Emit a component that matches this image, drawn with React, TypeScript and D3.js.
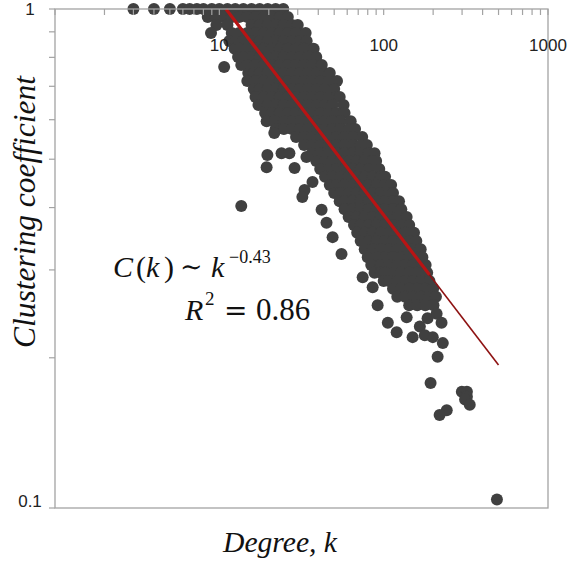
import React from "react";
import * as d3 from "d3";

// Dense rows of the scatter cloud: clustering coefficient per row, degrees in that row
const rowC: number[] = [
  1.0, 0.964, 0.929, 0.895, 0.863, 0.832, 0.801, 0.772, 0.744, 0.717,
  0.691, 0.666, 0.642, 0.619, 0.596, 0.575, 0.554, 0.534, 0.514, 0.496,
  0.478, 0.461, 0.444, 0.428, 0.412, 0.397, 0.383, 0.369, 0.356, 0.343,
  0.33, 0.318, 0.307, 0.296, 0.285, 0.275, 0.265, 0.255,
];
const rowK: number[][] = [
  [3, 4, 5, 6, 6.6, 7.3, 8, 9, 10, 11.2, 12.5, 14, 15.7, 17.6, 19.7, 22, 24.5],
  [8.5, 9.5, 10.6, 11.9, 13.2, 14.8, 16.6, 18.6, 20.8, 23.3, 26.1],
  [9.6, 11.2, 15.7, 17.6, 19.7, 22, 24.7, 27.7, 30],
  [8.9, 11.9, 13.2, 14.8, 16.6, 18.6, 20.8, 23.3, 26.1, 29.3, 33.5],
  [11.5, 12.5, 14, 15.7, 17.6, 19.7, 22, 24.7, 27.7, 31, 34],
  [12.4, 13.2, 14.8, 16.6, 18.6, 20.8, 23.3, 26.1, 29.3, 32.8, 37.5],
  [13, 14, 15.7, 17.6, 19.7, 22, 24.7, 27.7, 31, 34.7, 38.9],
  [13.6, 14.8, 16.6, 18.6, 20.8, 23.3, 26.1, 29.3, 32.8, 36.7, 42],
  [15, 16.2, 17.6, 19.7, 22, 24.7, 27.7, 31, 34.7, 38.9, 43.5, 47],
  [14.8, 16.6, 18.6, 20.8, 23.3, 26.1, 29.3, 32.8, 36.7, 41.1, 46, 52],
  [16.2, 17.6, 19.7, 22, 24.7, 27.7, 31, 34.7, 38.9, 43.5, 50],
  [16.6, 18.6, 20.8, 23.3, 26.1, 29.3, 32.8, 36.7, 41.1, 46, 51.6, 54],
  [17.3, 19.7, 22, 24.7, 27.7, 31, 34.7, 38.9, 43.5, 48.8, 57],
  [19, 20.8, 23.3, 26.1, 29.3, 32.8, 36.7, 41.1, 46, 51.6, 57.8],
  [19.4, 21.6, 24.7, 27.7, 31, 34.7, 38.9, 43.5, 48.8, 54.6, 63],
  [22, 24.7, 27.7, 31, 34.7, 38.9, 43.5, 48.8, 54.6, 61.2, 67],
  [29.3, 32.8, 36.7, 41.1, 46, 51.6, 57.8, 64.7, 74],
  [32.8, 36.7, 41.1, 46, 51.6, 57.8, 64.7, 72.5, 79],
  [36.7, 41.1, 46, 51.6, 57.8, 64.7, 72.5, 81.2, 88],
  [38.9, 43.5, 48.8, 54.6, 61.2, 68.5, 76.7, 85.9, 90],
  [41.1, 46, 51.6, 57.8, 64.7, 72.5, 81.2, 94],
  [44, 48.8, 54.6, 61.2, 68.5, 76.7, 85.9, 96.2, 102],
  [47, 51.6, 57.8, 64.7, 72.5, 81.2, 90.9, 102, 111],
  [50, 54.6, 61.2, 68.5, 76.7, 85.9, 96.2, 108, 114],
  [54, 57.8, 64.7, 72.5, 81.2, 90.9, 102, 114, 124],
  [57.8, 64.7, 72.5, 81.2, 90.9, 102, 114, 128],
  [61.2, 68.5, 76.7, 85.9, 96.2, 108, 121, 138],
  [66, 72.5, 81.2, 90.9, 102, 114, 128, 143],
  [69, 76.7, 85.9, 96.2, 108, 121, 135, 153],
  [72.5, 81.2, 90.9, 102, 114, 128, 143, 158],
  [76.7, 85.9, 96.2, 108, 121, 135, 151, 168],
  [80, 90.9, 102, 114, 128, 143, 160, 172],
  [84, 96.2, 108, 121, 135, 151, 169, 180],
  [88, 96.2, 102, 114, 128, 143, 160, 184],
  [100, 108, 121, 135, 151, 169, 190],
  [114, 128, 143, 160, 179, 200],
  [121, 135, 151, 169, 190, 208],
  [143, 160, 179, 201],
];

// Isolated points around the cloud
const scatterK: number[] = [
  10.7, 21.6, 19.6, 19.4, 23.9, 26.7, 28.7, 33.9, 36.9, 33, 32, 13.6, 41.9,
  44.9, 48.9, 55.4, 74.5, 85.7, 91.9, 106, 120, 138, 150, 166, 178, 199, 229,
  213, 193, 299, 321, 321, 313, 334, 242, 219, 489, 210, 185, 225,
];
const scatterC: number[] = [
  0.765, 0.564, 0.51, 0.482, 0.514, 0.514, 0.48, 0.505, 0.45, 0.434, 0.42,
  0.403, 0.396, 0.373, 0.349, 0.323, 0.29, 0.277, 0.255, 0.235, 0.225, 0.241,
  0.22, 0.231, 0.222, 0.22, 0.214, 0.201, 0.178, 0.171, 0.171, 0.167, 0.165,
  0.161, 0.157, 0.1536, 0.104, 0.245, 0.24, 0.235,
];

// Power-law fit C(k) = a * k^b
const fitCoef = 2.8;
const fitExp = -0.43;
const fitStart = 11;
const fitThickEnd = 190;
const fitEnd = 500;

const xLabelTicks = [10, 100, 1000];
const yLabelTicks = [1, 0.1];

export default function App() {
  const W = 571;
  const H = 562;
  const x = d3.scaleLog().domain([1, 1000]).range([55, 548]);
  const y = d3.scaleLog().domain([0.1, 1]).range([508, 9]);

  const points: { k: number; c: number }[] = [];
  rowC.forEach((c, i) => rowK[i].forEach((k) => points.push({ k, c })));
  scatterK.forEach((k, i) => points.push({ k, c: scatterC[i] }));

  const fitLine = d3
    .line<number>()
    .x((k) => x(k))
    .y((k) => y(fitCoef * Math.pow(k, fitExp)));

  const xTicks = x.ticks();
  const yTicks = d3.range(1, 11).map((v) => v / 10);
  const frame = "#a3a3a3";
  const serif = "'Liberation Serif', 'Times New Roman', serif";
  const sans = "'Liberation Sans', Arial, sans-serif";

  return (
    <div style={{ position: "absolute", left: 0, top: 0 }}>
      <svg width={W} height={H} style={{ display: "block", background: "#fff" }}>
        {/* points */}
        <g fill="#404040">
          {points.map((p, i) => (
            <circle key={i} cx={x(p.k)} cy={y(p.c)} r={6} />
          ))}
        </g>
        {/* fit line */}
        <path d={fitLine([fitStart, fitEnd]) || ""} stroke="#8e1212" strokeWidth={1.6} fill="none" />
        <path d={fitLine([fitStart, fitThickEnd]) || ""} stroke="#b81414" strokeWidth={3.2} fill="none" />
        {/* frame */}
        <rect
          x={x(1)}
          y={y(1)}
          width={x(1000) - x(1)}
          height={y(0.1) - y(1)}
          fill="none"
          stroke={frame}
          strokeWidth={1.3}
        />
        {/* x ticks (top, inward) */}
        {xTicks.map((t, i) => (
          <line key={"xt" + i} x1={x(t)} x2={x(t)} y1={y(1)} y2={y(1) + 6} stroke={frame} strokeWidth={1.2} />
        ))}
        {/* y ticks (left, outward) */}
        {yTicks.map((t, i) => (
          <line key={"yt" + i} x1={x(1) - 6} x2={x(1)} y1={y(t)} y2={y(t)} stroke={frame} strokeWidth={1.2} />
        ))}
        {/* tick labels */}
        {xLabelTicks.map((t) => (
          <text key={"xl" + t} x={x(t)} y={51} textAnchor="middle" fontFamily={sans} fontSize={17} fill="#222">
            {String(t)}
          </text>
        ))}
        {yLabelTicks.map((t) => (
          <text
            key={"yl" + t}
            x={30}
            y={y(t) + (t === 1 ? 6 : -1)}
            textAnchor="middle"
            fontFamily={sans}
            fontSize={17}
            fill="#222"
          >
            {String(t)}
          </text>
        ))}
        {/* axis titles */}
        <text
          transform="translate(35,212) rotate(-90)"
          textAnchor="middle"
          fontFamily={serif}
          fontStyle="italic"
          fontSize={31}
          fill="#111"
          textLength={272}
          lengthAdjust="spacingAndGlyphs"
        >
          Clustering coefficient
        </text>
        <text
          x={280}
          y={552}
          textAnchor="middle"
          fontFamily={serif}
          fontStyle="italic"
          fontSize={29}
          fill="#111"
          textLength={114}
          lengthAdjust="spacingAndGlyphs"
        >
          Degree, k
        </text>
        {/* formula */}
        <g fontFamily={serif} fill="#111">
          <text x={113} y={277} fontSize={30} fontStyle="italic">C</text>
          <text x={136} y={277} fontSize={30}>(</text>
          <text x={146} y={277} fontSize={30} fontStyle="italic">k</text>
          <text x={164} y={277} fontSize={30}>)</text>
          <text x={180} y={276} fontSize={27} fontFamily="'DejaVu Serif', serif">∼</text>
          <text x={211} y={277} fontSize={30} fontStyle="italic">k</text>
          <text x={229} y={263} fontSize={18}>−0.43</text>
          <text x={185} y={320} fontSize={30} fontStyle="italic">R</text>
          <text x={205} y={305} fontSize={19}>2</text>
          <text x={224} y={320} fontSize={28} fontFamily="'DejaVu Serif', serif">=</text>
          <text x={256} y={320} fontSize={31}>0.86</text>
        </g>
      </svg>
    </div>
  );
}
